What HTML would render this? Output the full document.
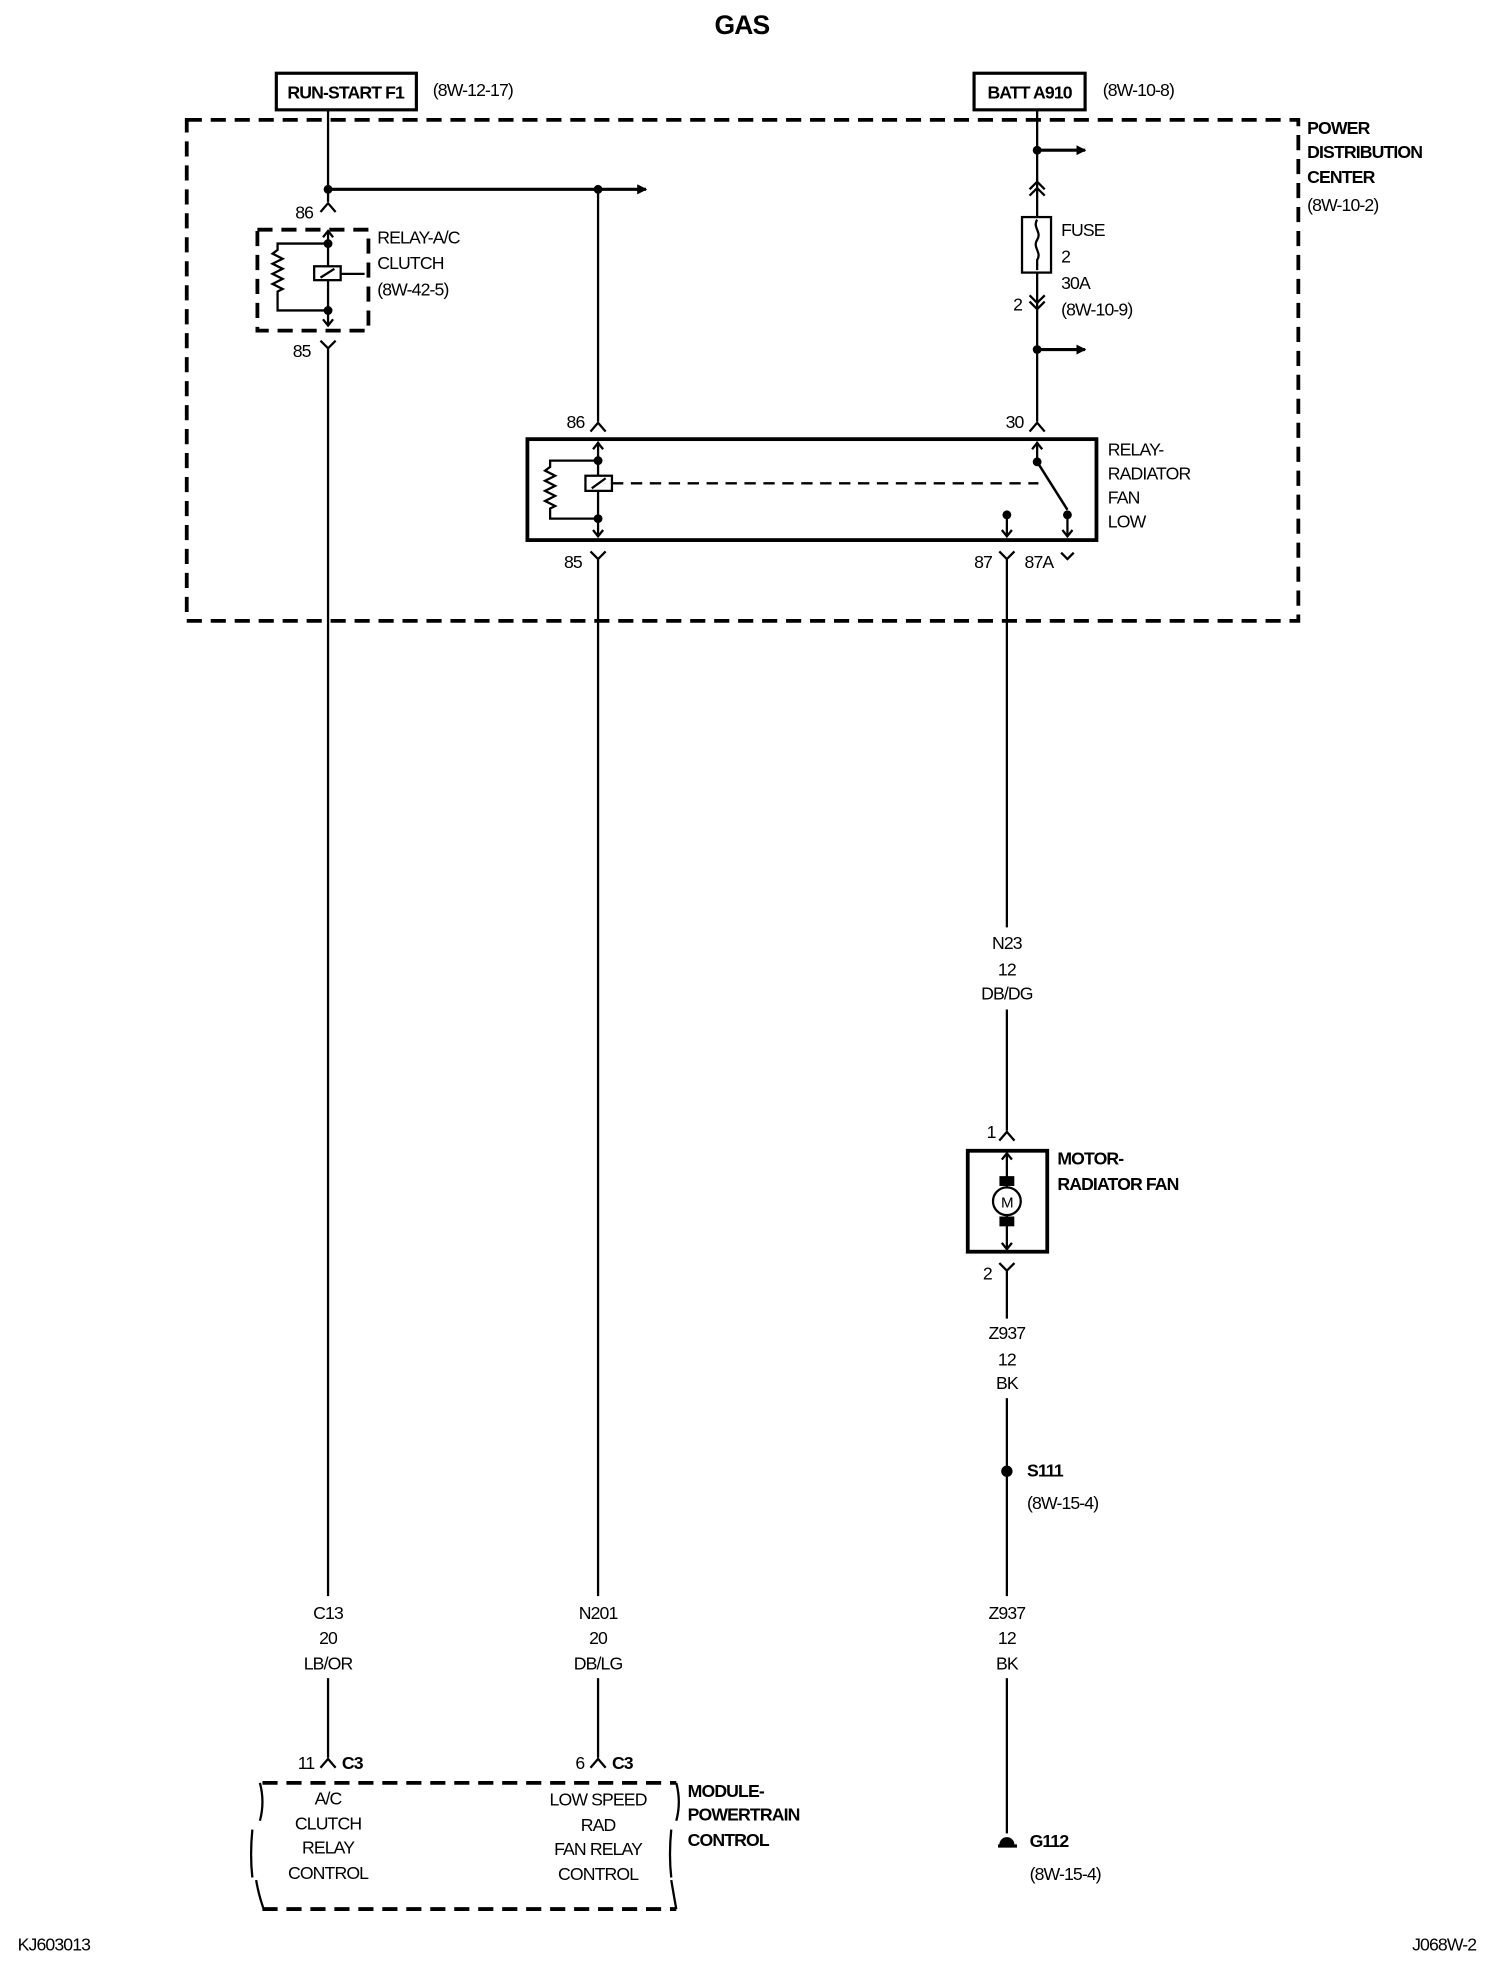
<!DOCTYPE html>
<html><head><meta charset="utf-8"><style>
html,body{margin:0;padding:0;background:#fff;}
svg{display:block;}
text{font-family:"Liberation Sans",Arial,sans-serif;font-size:14px;fill:#000;letter-spacing:-0.7px;}
.b{font-weight:bold;}
.c{text-anchor:middle;}
</style></head><body>
<svg width="1504" height="1976" viewBox="0 0 1192 1566" xmlns="http://www.w3.org/2000/svg">
<defs>
<marker id="ah" markerWidth="8" markerHeight="8" refX="7" refY="4" orient="auto" markerUnits="userSpaceOnUse"><path d="M0,0 L8,4 L0,8 Z"/></marker>
</defs>
<g stroke="#000" fill="none" stroke-width="1.8">
<rect x="219" y="58" width="111" height="29" stroke-width="2.5"/>
<rect x="772" y="58" width="88" height="29" stroke-width="2.5"/>
<rect x="148" y="95" width="881" height="397" stroke-width="3" stroke-dasharray="12,7"/>
<line x1="260" y1="87" x2="260" y2="160"/>
<line x1="260" y1="150" x2="512" y2="150" stroke-width="2.5" marker-end="url(#ah)"/>
<line x1="474" y1="150" x2="474" y2="334"/>
<path d="M254,168 L260,161 L266,168"/>
<rect x="204" y="182" width="88" height="80" stroke-width="3" stroke-dasharray="12,7"/>
<line x1="260" y1="184" x2="260" y2="258"/>
<path d="M256,188 L260,183 L264,188 M256,253 L260,258 L264,253"/>
<path d="M260,193 H220 V198 l-4,3 l8,4 l-8,4 l8,4 l-8,4 l8,4 l-8,4 l8,4 l-4,2 V246 H260"/>
<rect x="249" y="211" width="21" height="11" fill="#fff"/>
<path d="M254,220 L265,213"/>
<line x1="270" y1="217" x2="289" y2="217"/>
<path d="M254,270 L260,276 L266,270 M260,276 V1265 M260,1330 V1393"/>
<path d="M254,1401 L260,1394 L266,1401"/>
<path d="M468,342 L474,335 L480,342"/>
<rect x="418" y="348" width="451" height="80" stroke-width="3"/>
<line x1="474" y1="350" x2="474" y2="425"/>
<path d="M470,356 L474,351 L478,356 M470,420 L474,425 L478,420"/>
<path d="M474,365 H436 V370 l-4,3 l8,4 l-4,2 l-4,2 l8,4 l-8,4 l8,4 l-8,4 l8,4 l-4,2 V411 H474"/>
<rect x="464" y="377" width="21" height="12" fill="#fff"/>
<path d="M469,387 L480,379"/>
<line x1="485" y1="383" x2="823" y2="383" stroke-dasharray="9,6"/>
<line x1="822" y1="350" x2="822" y2="366"/>
<path d="M818,356 L822,351 L826,356"/>
<line x1="822" y1="366" x2="846" y2="404" stroke-width="2"/>
<line x1="846" y1="408" x2="846" y2="425"/><path d="M842,420 L846,425 L850,420"/>
<line x1="798" y1="408" x2="798" y2="425"/><path d="M794,420 L798,425 L802,420"/>
<path d="M468,437 L474,443 L480,437 M474,443 V1265 M474,1330 V1393"/>
<path d="M468,1401 L474,1394 L480,1401"/>
<path d="M792,437 L798,443 L804,437 M798,443 V735 M798,800 V896"/>
<path d="M841,438 L846,443 L851,438"/>
<line x1="822" y1="87" x2="822" y2="334"/>
<line x1="822" y1="119" x2="860" y2="119" stroke-width="2.5" marker-end="url(#ah)"/>
<line x1="822" y1="277" x2="860" y2="277" stroke-width="2.5" marker-end="url(#ah)"/>
<path d="M816,150 L822,144 L828,150 M816,155 L822,149 L828,155"/>
<rect x="810" y="172" width="23" height="44" fill="#fff"/>
<path d="M822,174 c-4,6 4,10 0,16 c-4,6 4,10 0,16 v8"/>
<path d="M816,234 L822,240 L828,234 M816,239 L822,245 L828,239"/>
<path d="M816,342 L822,335 L828,342"/>
<path d="M792,904 L798,897 L804,904"/>
<rect x="767" y="912" width="63" height="80" stroke-width="3"/>
<line x1="798" y1="914" x2="798" y2="990"/>
<path d="M794,919 L798,914 L802,919 M794,985 L798,990 L802,985"/>
<rect x="793" y="933" width="10" height="6" fill="#000"/>
<rect x="793" y="965" width="10" height="6" fill="#000"/>
<circle cx="798" cy="952" r="11" fill="#fff"/>
<path d="M792,1001 L798,1007 L804,1001 M798,1007 V1045 M798,1108 V1265 M798,1330 V1453"/>
<path d="M791,1463 H806" stroke-width="2.5"/>
<path d="M208,1413 H536 M208,1513 H536" stroke-width="3" stroke-dasharray="12,7"/>
<path d="M206,1413 q4,15 0,30 M200,1450 q-2,20 0,38 M203,1490 q2,12 6,23" />
<path d="M536,1413 q4,15 0,30 M532,1450 q-2,20 0,38 M532,1490 q2,12 4,23"/>
</g>
<g fill="#000">
<circle cx="260" cy="150" r="3.5"/><circle cx="474" cy="150" r="3.5"/>
<circle cx="260" cy="193" r="3.5"/><circle cx="260" cy="246" r="3.5"/>
<circle cx="474" cy="365" r="3.5"/><circle cx="474" cy="411" r="3.5"/>
<circle cx="822" cy="366" r="3.5"/><circle cx="846" cy="408" r="3.5"/><circle cx="798" cy="408" r="3.5"/>
<circle cx="822" cy="119" r="3.5"/><circle cx="822" cy="277" r="3.5"/>
<circle cx="798" cy="1166" r="4.5"/>
<path d="M792,1462 a6,6 0 0 1 12,0 Z"/>
</g>
<text x="588" y="27" class="b c" style="font-size:21px">GAS</text>
<text x="274" y="78" class="b c">RUN-START F1</text>
<text x="343" y="76">(8W-12-17)</text>
<text x="816" y="78" class="b c">BATT A910</text>
<text x="874" y="76">(8W-10-8)</text>
<text x="1036" y="106" class="b">POWER</text>
<text x="1036" y="125" class="b">DISTRIBUTION</text>
<text x="1036" y="145" class="b">CENTER</text>
<text x="1036" y="167">(8W-10-2)</text>
<text x="234" y="173">86</text>
<text x="232" y="283">85</text>
<text x="299" y="193">RELAY-A/C</text>
<text x="299" y="213">CLUTCH</text>
<text x="299" y="234">(8W-42-5)</text>
<text x="841" y="187">FUSE</text>
<text x="841" y="208">2</text>
<text x="841" y="229">30A</text>
<text x="841" y="250">(8W-10-9)</text>
<text x="803" y="246">2</text>
<text x="797" y="339">30</text>
<text x="449" y="339">86</text>
<text x="878" y="361">RELAY-</text>
<text x="878" y="380">RADIATOR</text>
<text x="878" y="399">FAN</text>
<text x="878" y="418">LOW</text>
<text x="447" y="450">85</text>
<text x="772" y="450">87</text>
<text x="812" y="450">87A</text>
<text x="798" y="752" class="c">N23</text>
<text x="798" y="773" class="c">12</text>
<text x="798" y="792" class="c">DB/DG</text>
<text x="782" y="902">1</text>
<text x="838" y="923" class="b">MOTOR-</text>
<text x="838" y="943" class="b">RADIATOR FAN</text>
<text x="798" y="957" class="c" style="font-size:12px">M</text>
<text x="779" y="1014">2</text>
<text x="798" y="1061" class="c">Z937</text>
<text x="798" y="1082" class="c">12</text>
<text x="798" y="1101" class="c">BK</text>
<text x="814" y="1170" class="b">S111</text>
<text x="814" y="1196">(8W-15-4)</text>
<text x="798" y="1283" class="c">Z937</text>
<text x="798" y="1303" class="c">12</text>
<text x="798" y="1323" class="c">BK</text>
<text x="816" y="1464" class="b">G112</text>
<text x="816" y="1490">(8W-15-4)</text>
<text x="260" y="1283" class="c">C13</text>
<text x="260" y="1303" class="c">20</text>
<text x="260" y="1323" class="c">LB/OR</text>
<text x="474" y="1283" class="c">N201</text>
<text x="474" y="1303" class="c">20</text>
<text x="474" y="1323" class="c">DB/LG</text>
<text x="236" y="1402">11</text>
<text x="271" y="1402" class="b">C3</text>
<text x="456" y="1402">6</text>
<text x="485" y="1402" class="b">C3</text>
<text x="545" y="1424" class="b">MODULE-</text>
<text x="545" y="1443" class="b">POWERTRAIN</text>
<text x="545" y="1463" class="b">CONTROL</text>
<text x="260" y="1430" class="c">A/C</text>
<text x="260" y="1450" class="c">CLUTCH</text>
<text x="260" y="1469" class="c">RELAY</text>
<text x="260" y="1489" class="c">CONTROL</text>
<text x="474" y="1431" class="c">LOW SPEED</text>
<text x="474" y="1451" class="c">RAD</text>
<text x="474" y="1470" class="c">FAN RELAY</text>
<text x="474" y="1490" class="c">CONTROL</text>
<text x="14" y="1546">KJ603013</text>
<text x="1170" y="1546" style="text-anchor:end">J068W-2</text>
</svg>
</body></html>
